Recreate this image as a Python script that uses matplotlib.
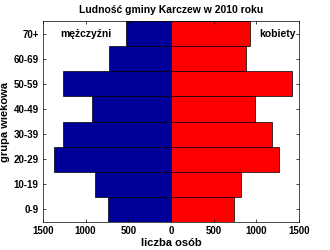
import numpy as np
import matplotlib
matplotlib.use("Agg")
import matplotlib.pyplot as plt

plt.rcParams['font.family'] = ['Liberation Sans', 'DejaVu Sans']
plt.rcParams['font.weight'] = 'bold'

# grupy wiekowe i liczebności
groups = ["0-9", "10-19", "20-29", "30-39", "40-49", "50-59", "60-69", "70+"]
men = [737, 885, 1370, 1270, 920, 1270, 730, 530]
women = [744, 819, 1270, 1181, 986, 1422, 877, 927]
xticks = [-1500, -1000, -500, 0, 500, 1000, 1500]
xticklabels = ["1500", "1000", "500", "0", "500", "1000", "1500"]

fig = plt.figure(figsize=(3.3, 2.5), dpi=100)
ax = fig.add_axes([0.130, 0.112, 0.776, 0.804])

y = np.arange(1, len(groups) + 1)
ax.barh(y, -np.array(men), height=1.0, color="#000099", edgecolor="black", linewidth=0.5)
ax.barh(y, women, height=1.0, color="#ff0000", edgecolor="black", linewidth=0.5)

ax.set_xlim(-1500, 1500)
ax.set_ylim(0.5, len(groups) + 0.5)
ax.set_xticks(xticks)
ax.set_xticklabels(xticklabels)
ax.set_yticks(y)
ax.set_yticklabels(groups)
ax.tick_params(direction="in", length=2.5, width=0.5, labelsize=7, top=True, right=True, pad=3)
for s in ax.spines.values():
    s.set_linewidth(0.5)

ax.set_title("Ludność gminy Karczew w 2010 roku", fontsize=7.5, fontweight="bold", pad=6)
ax.set_xlabel("liczba osób", fontsize=8, fontweight="bold")
ax.set_ylabel("grupa wiekowa", fontsize=8, fontweight="bold")
ax.xaxis.set_label_coords(0.5, -0.08)
ax.yaxis.set_label_coords(-0.13, 0.5)

ax.text(-1000, 8, "mężczyźni", fontsize=7.5, fontweight="bold", ha="center", va="center")
ax.text(1250, 8, "kobiety", fontsize=7.5, fontweight="bold", ha="center", va="center")

plt.savefig("out.png", dpi=100)
